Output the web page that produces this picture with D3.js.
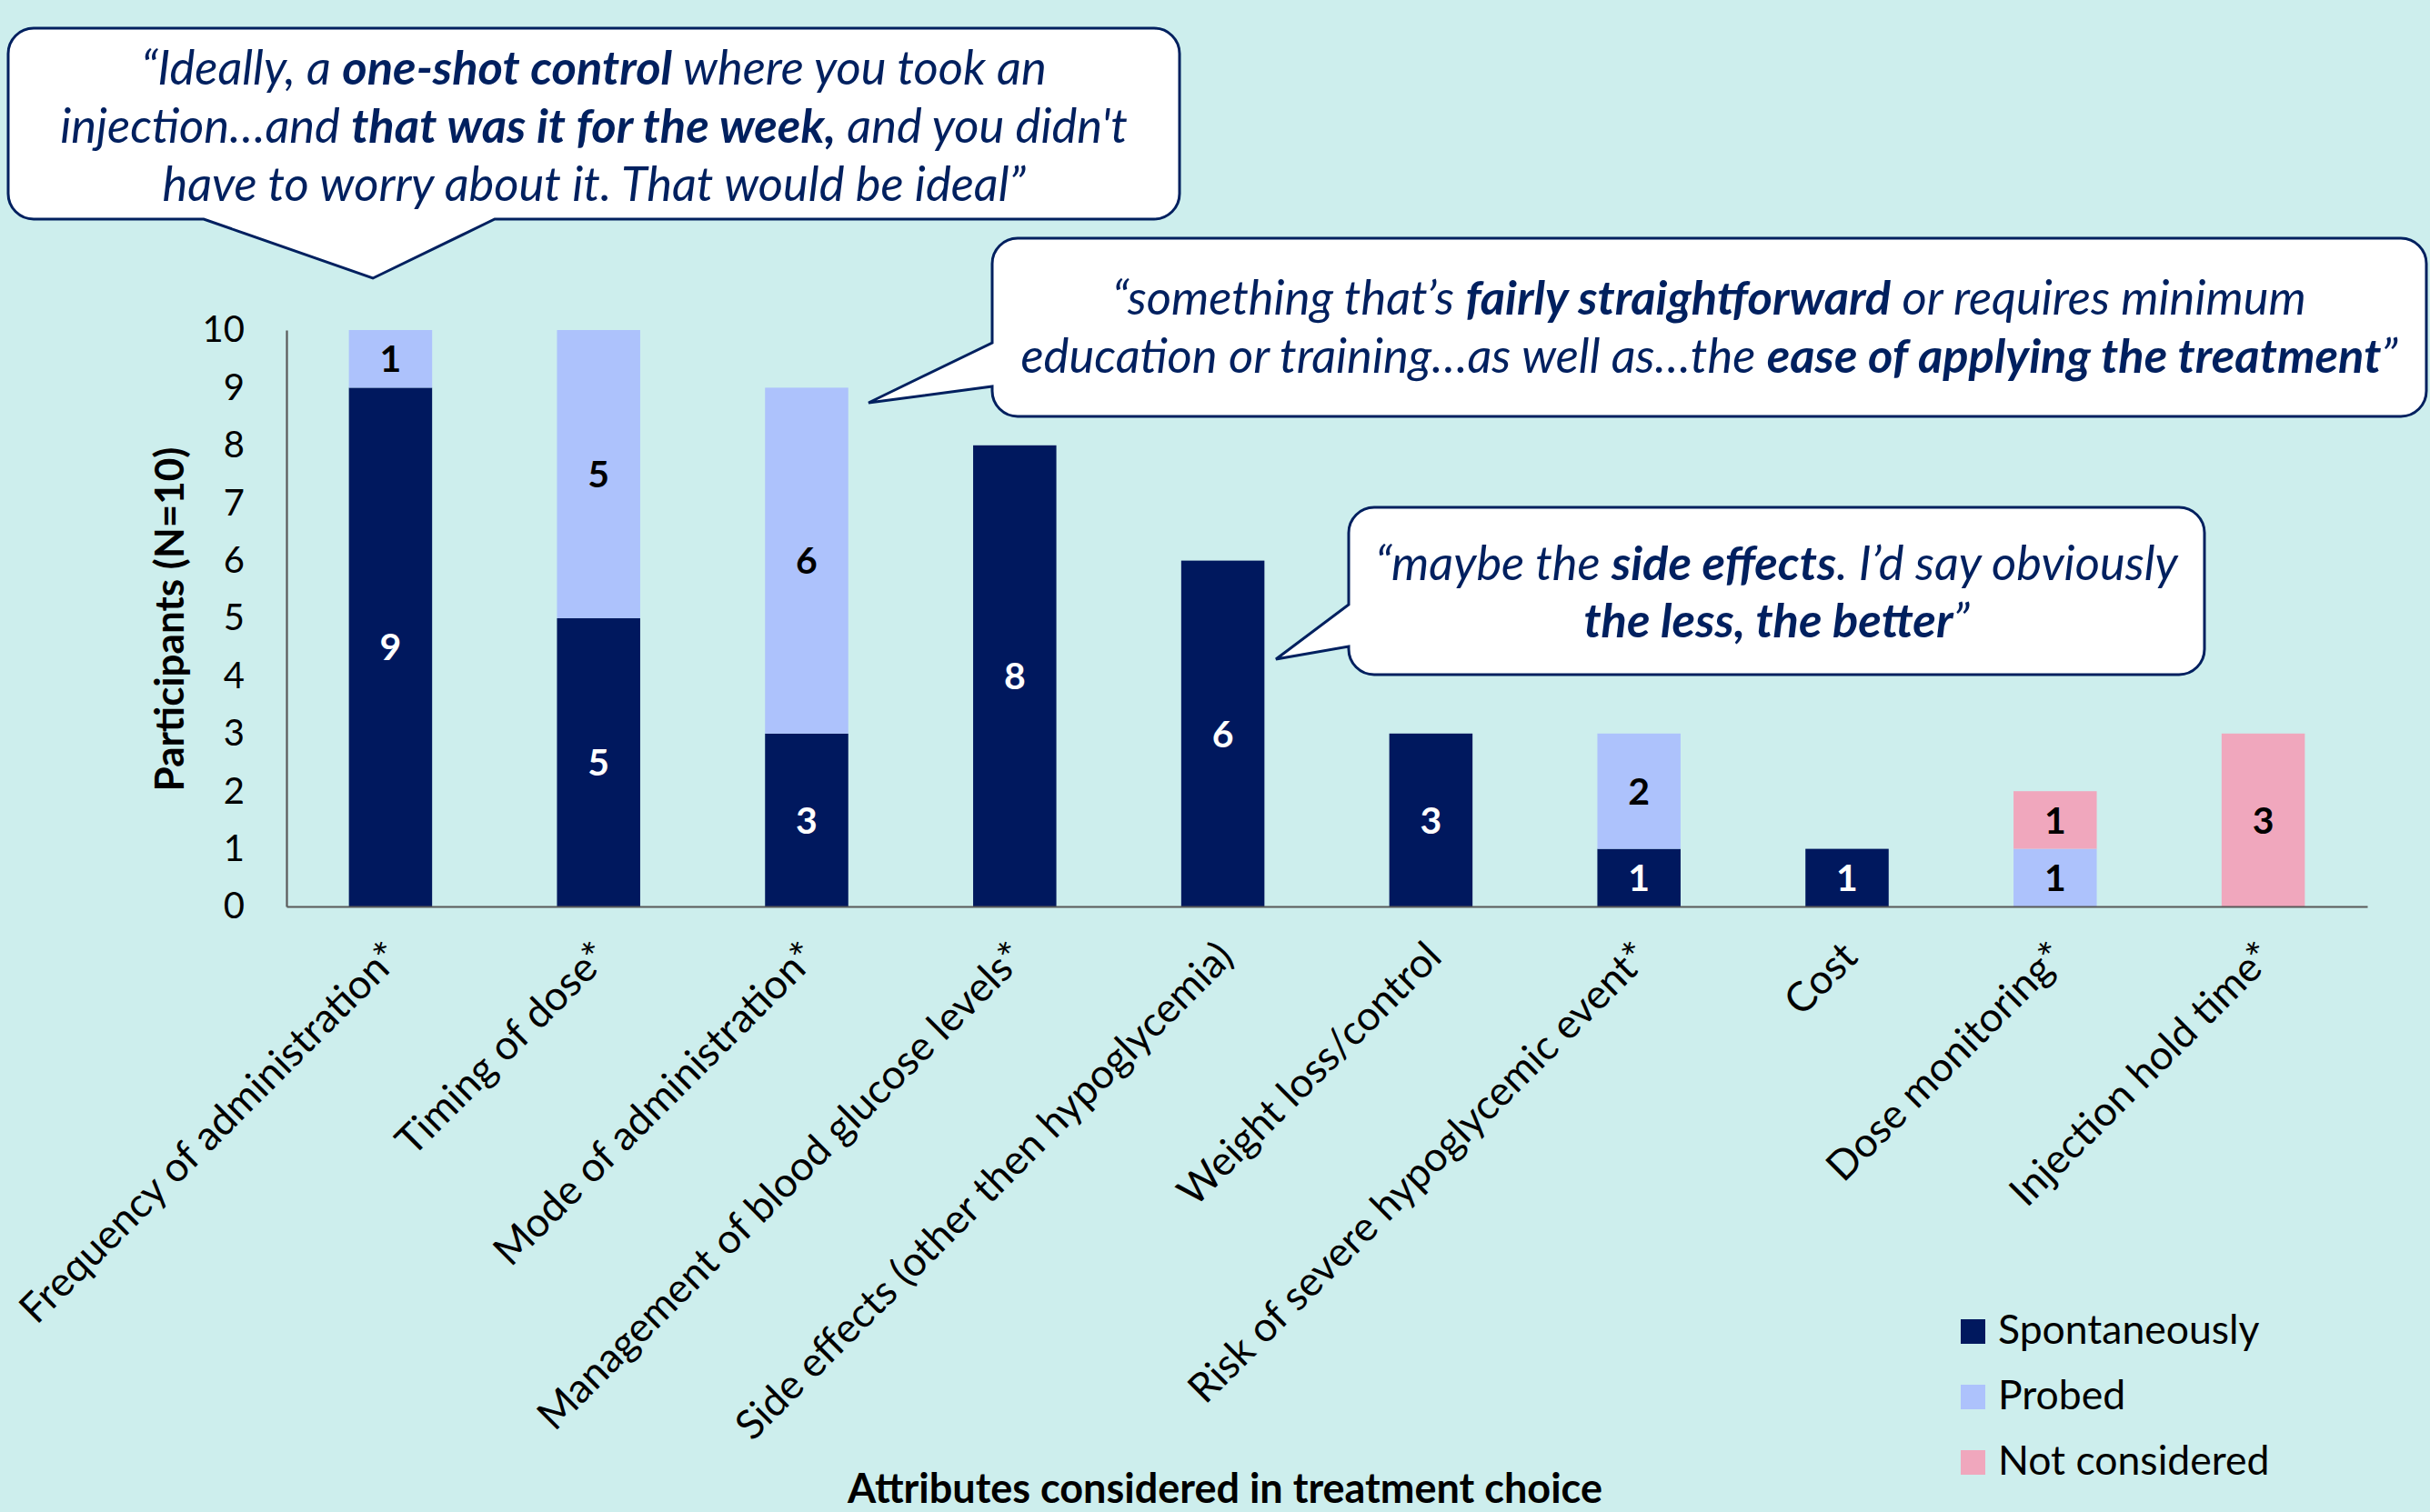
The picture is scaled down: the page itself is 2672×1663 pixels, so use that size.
<!DOCTYPE html>
<html><head><meta charset="utf-8">
<script src="https://cdn.jsdelivr.net/npm/d3@7"></script>
<style>html,body{margin:0;padding:0;background:#CDEEED;overflow:hidden;} svg{display:block;}</style>
</head><body>
<script>
// ---------- data ----------
const categories = [
  "Frequency of administration*",
  "Timing of dose*",
  "Mode of administration*",
  "Management of blood glucose levels*",
  "Side effects (other then hypoglycemia)",
  "Weight loss/control",
  "Risk of severe hypoglycemic event*",
  "Cost",
  "Dose monitoring*",
  "Injection hold time*"
];
const spontaneously = [9, 5, 3, 8, 6, 3, 1, 1, 0, 0];
const probed        = [1, 5, 6, 0, 0, 0, 2, 0, 1, 0];
const notConsidered = [0, 0, 0, 0, 0, 0, 0, 0, 1, 3];
const seriesNames = ["Spontaneously", "Probed", "Not considered"];
const seriesColors = ["#00185E", "#ADC2FC", "#F0A7BD"];
const labelColors = ["#FFFFFF", "#000000", "#000000"];
const yTicks = [0, 1, 2, 3, 4, 5, 6, 7, 8, 9, 10];
const yTitle = "Participants (N=10)";
const xTitle = "Attributes considered in treatment choice";

// callout quotes: lines of [text, bold] segments
const quote1 = [
  [["\u201CIdeally, a ", false], ["one-shot control", true], [" where you took an", false]],
  [["injection\u2026and ", false], ["that was it for the week,", true], [" and you didn't", false]],
  [["have to worry about it. That would be ideal\u201D", false]]
];
const quote2 = [
  [["\u201Csomething that\u2019s ", false], ["fairly straightforward", true], [" or requires minimum", false]],
  [["education or training\u2026as well as\u2026the ", false], ["ease of applying the treatment", true], ["\u201D", false]]
];
const quote3 = [
  [["\u201Cmaybe the ", false], ["side effects", true], [". I\u2019d say obviously", false]],
  [["the less, the better", true], ["\u201D", false]]
];

// ---------- setup ----------
const W = 2672, H = 1663;
const FONT = "Lato, 'Open Sans', sans-serif";
const NAVY = "#00205F";

const svg = d3.select("body").append("svg").attr("width", W).attr("height", H);
svg.append("rect").attr("width", W).attr("height", H).attr("fill", "#CDEEED");

const x = d3.scaleBand().domain(categories).range([315, 2603]).padding(0);
const y = d3.scaleLinear().domain([0, 10]).range([997, 363]);
const barW = x.bandwidth() * 0.4;

const table = categories.map((c, i) => ({
  cat: c,
  "Spontaneously": spontaneously[i],
  "Probed": probed[i],
  "Not considered": notConsidered[i]
}));
const stacked = d3.stack().keys(seriesNames)(table);

// bars
const layers = svg.append("g").selectAll("g").data(stacked).join("g")
  .attr("fill", (d, i) => seriesColors[i]);
layers.selectAll("rect").data(d => d.filter(s => s[1] - s[0] > 0)).join("rect")
  .attr("x", d => x(d.data.cat) + (x.bandwidth() - barW) / 2)
  .attr("width", barW)
  .attr("y", d => y(d[1]))
  .attr("height", d => y(d[0]) - y(d[1]));

// value labels
stacked.forEach((layer, li) => {
  svg.append("g").selectAll("text").data(layer.filter(s => s[1] - s[0] > 0)).join("text")
    .attr("x", d => x(d.data.cat) + x.bandwidth() / 2)
    .attr("y", d => (y(d[0]) + y(d[1])) / 2)
    .attr("dy", "0.36em")
    .attr("text-anchor", "middle")
    .attr("font-family", FONT).attr("font-weight", "bold").attr("font-size", 41)
    .attr("fill", labelColors[li])
    .text(d => d[1] - d[0]);
});

// y axis
const yAxis = svg.append("g").attr("transform", "translate(315,0)")
  .call(d3.axisLeft(y).tickValues(yTicks).tickSize(0).tickPadding(46).tickFormat(d3.format("d")));
yAxis.select(".domain").attr("stroke", "#595959").attr("stroke-width", 2.2);
yAxis.selectAll("text").attr("font-family", FONT).attr("font-size", 40).attr("fill", "#000");

// x axis
const xAxis = svg.append("g").attr("transform", "translate(0,997)")
  .call(d3.axisBottom(x).tickSize(0).tickSizeOuter(0));
xAxis.select(".domain").attr("stroke", "#595959").attr("stroke-width", 2.2);
xAxis.selectAll("text")
  .attr("font-family", FONT).attr("font-size", 45).attr("fill", "#000")
  .attr("text-anchor", "end").attr("x", 0).attr("y", 0).attr("dy", 0)
  .attr("transform", "translate(14,58) rotate(-45)");

// axis titles
svg.append("text").attr("transform", "translate(202,681) rotate(-90)")
  .attr("text-anchor", "middle").attr("font-family", FONT).attr("font-weight", "bold")
  .attr("font-size", 44).attr("fill", "#000").text(yTitle);
svg.append("text").attr("x", 1347).attr("y", 1653)
  .attr("text-anchor", "middle").attr("font-family", FONT).attr("font-weight", "bold")
  .attr("font-size", 45).attr("fill", "#000").text(xTitle);

// legend
const legend = svg.append("g").selectAll("g").data(seriesNames).join("g")
  .attr("transform", (d, i) => `translate(2156,${1478 + i * 72})`);
legend.append("rect").attr("x", 0).attr("y", -27).attr("width", 27).attr("height", 27)
  .attr("fill", (d, i) => seriesColors[i]);
legend.append("text").attr("x", 41).attr("y", 0)
  .attr("font-family", FONT).attr("font-size", 44.5).attr("fill", "#000").text(d => d);

// callouts
function calloutPath(x0, y0, x1, y1, r, tail) {
  const p = d3.path();
  p.moveTo(x0 + r, y0);
  p.lineTo(x1 - r, y0);
  p.arcTo(x1, y0, x1, y0 + r, r);
  p.lineTo(x1, y1 - r);
  p.arcTo(x1, y1, x1 - r, y1, r);
  if (tail.side === "bottom") {
    p.lineTo(tail.b, y1);
    p.lineTo(tail.tip[0], tail.tip[1]);
    p.lineTo(tail.a, y1);
  }
  p.lineTo(x0 + r, y1);
  p.arcTo(x0, y1, x0, y1 - r, r);
  if (tail.side === "left") {
    p.lineTo(x0, tail.b);
    p.lineTo(tail.tip[0], tail.tip[1]);
    p.lineTo(x0, tail.a);
  }
  p.lineTo(x0, y0 + r);
  p.arcTo(x0, y0, x0 + r, y0, r);
  p.closePath();
  return p.toString();
}
function callout(box, tail, lines, baselines, fs) {
  const g = svg.append("g");
  g.append("path").attr("d", calloutPath(box[0], box[1], box[2], box[3], 28, tail))
    .attr("fill", "#FFFFFF").attr("stroke", NAVY).attr("stroke-width", 3).attr("stroke-linejoin", "miter");
  const cx = (box[0] + box[2]) / 2;
  lines.forEach((segs, i) => {
    const t = g.append("text").attr("x", cx).attr("y", baselines[i]).attr("text-anchor", "middle")
      .attr("font-family", FONT).attr("font-style", "italic").attr("font-size", fs).attr("fill", NAVY);
    segs.forEach(s => t.append("tspan").attr("font-weight", s[1] ? "bold" : "normal").text(s[0]));
  });
}
callout([9, 31, 1297, 241], {side: "bottom", a: 224, b: 544, tip: [410, 306]}, quote1, [93, 157, 221], 52.5);
callout([1091, 262, 2668, 458], {side: "left", a: 377, b: 425, tip: [955, 443]}, quote2, [346, 410], 52.5);
callout([1483, 558, 2424, 742], {side: "left", a: 665, b: 711, tip: [1403, 725]}, quote3, [638, 701], 52.5);
</script>
</body></html>
